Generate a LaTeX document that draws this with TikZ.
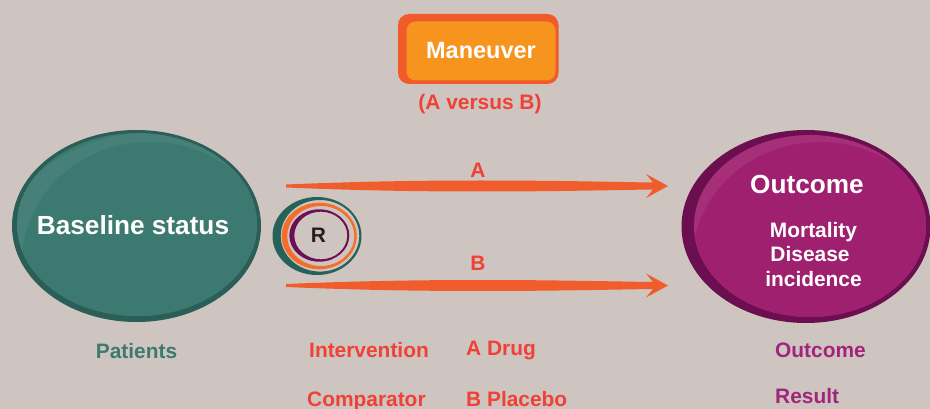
\documentclass[tikz,border=0pt]{standalone}
\usepackage{fontspec}
\setmainfont{Liberation Sans}
\definecolor{bgc}{RGB}{207,197,192}
\definecolor{orgborder}{RGB}{241,90,41}
\definecolor{orgfill}{RGB}{247,148,29}
\definecolor{redtxt}{RGB}{239,65,54}
\definecolor{arrowcol}{RGB}{241,92,44}
\definecolor{tealdark}{RGB}{42,94,86}
\definecolor{tealmain}{RGB}{60,121,112}
\definecolor{tealtxt}{RGB}{61,122,112}
\definecolor{magdark}{RGB}{108,15,80}
\definecolor{magmain}{RGB}{160,32,112}
\definecolor{magtxt}{RGB}{162,36,124}
\definecolor{ringteal}{RGB}{38,98,88}
\definecolor{ringorange}{RGB}{243,110,42}
\definecolor{ringpurple}{RGB}{110,14,84}
\definecolor{rtxt}{RGB}{35,31,32}
\tikzset{
  lbl/.style={inner sep=0pt, anchor=base west, font=\bfseries\fontsize{20.9}{24}\selectfont},
  lblc/.style={inner sep=0pt, anchor=base, font=\bfseries\fontsize{20.9}{24}\selectfont},
  wtitle/.style={inner sep=0pt, anchor=base, text=white, font=\bfseries\fontsize{26.2}{30}\selectfont},
  wsub/.style={inner sep=0pt, anchor=base, text=white, font=\bfseries\fontsize{20.9}{24}\selectfont},
  taperarrow/.pic={
    \fill[arrowcol] (0,-1.5) .. controls (60,-4) and (120,-5.5) .. (195,-5.5)
      .. controls (270,-5.5) and (330,-4) .. (367,-3.5) -- (360,-12) -- (382,0) -- (360,12) -- (367,3.5)
      .. controls (330,4) and (270,5.5) .. (195,5.5)
      .. controls (120,5.5) and (60,4) .. (0,1.5) -- cycle;
  }
}
\begin{document}
\begin{tikzpicture}[x=1pt,y=-1pt]
\fill[bgc] (0,0) rectangle (930,409);
\useasboundingbox (0,0) rectangle (930,409);

% Maneuver box
\fill[orgborder, rounded corners=11pt] (398,14) rectangle (558.5,84);
\fill[orgfill, rounded corners=9pt] (406.5,21.5) rectangle (555.5,80.5);
\node[wtitle, font=\bfseries\fontsize{23.5}{28}\selectfont] (man) at (481,58.5) {Maneuver};
\node[lblc, text=redtxt] (avb) at (480,109.5) {(A versus B)};

% Baseline ellipse
\fill[tealdark] (136.5,226) ellipse [x radius=124.5pt, y radius=96pt];
\fill[tealmain] (137,224.5) ellipse [x radius=120pt, y radius=91.5pt];
\begin{scope}
  \clip (137,224.5) ellipse [x radius=120pt, y radius=91.5pt];
  \fill[white, opacity=0.06] (150,255) ellipse [x radius=150pt, y radius=122pt];
  \fill[tealmain] (150,262) ellipse [x radius=128pt, y radius=120pt];
\end{scope}
\node[wtitle] (base) at (133,235) {Baseline status};

% Outcome ellipse
\fill[magdark] (806,226.5) ellipse [x radius=124.5pt, y radius=96.5pt];
\fill[magmain] (810,226) ellipse [x radius=116pt, y radius=91pt];
\begin{scope}
  \clip (810,226) ellipse [x radius=116pt, y radius=91pt];
  \fill[white, opacity=0.07] (820,255) ellipse [x radius=150pt, y radius=122pt];
  \fill[magmain] (820,262) ellipse [x radius=128pt, y radius=120pt];
\end{scope}
\node[wtitle] (out) at (807,193.5) {Outcome};
\node[wsub] (mort) at (813.5,237) {Mortality};
\node[wsub] (dis) at (810,261.7) {Disease};
\node[wsub] (inc) at (813.5,286.7) {incidence};

% R rings (crescents)
\fill[ringteal, even odd rule] (317,236) ellipse [x radius=44.5pt, y radius=39pt]
  (320,235.8) ellipse [x radius=39.3pt, y radius=35.8pt];
\fill[ringorange, even odd rule] (319.2,236) ellipse [x radius=37.5pt, y radius=33.3pt]
  (320.8,236) ellipse [x radius=33.5pt, y radius=30pt];
\fill[ringpurple, even odd rule] (319.3,235.5) ellipse [x radius=30pt, y radius=26.2pt]
  (320.8,235.5) ellipse [x radius=26.5pt, y radius=23.8pt];
\node[inner sep=0pt, anchor=base, text=rtxt, font=\bfseries\fontsize{21}{24}\selectfont] (r) at (318.5,243) {R};

% Arrows
\coordinate (aS) at (286,186);
\coordinate (bS) at (286,285.5);
\pic at (aS) {taperarrow};
\pic at (bS) {taperarrow};
\node[lblc, text=redtxt] (la) at (478,177.3) {A};
\node[lblc, text=redtxt] (lb) at (478,270) {B};

% bottom labels
\node[lblc, text=tealtxt] (pat) at (136.5,358) {Patients};
\node[lbl, text=redtxt] (intv) at (309,357) {Intervention};
\node[lbl, text=redtxt] (adrug) at (466,355.5) {A Drug};
\node[lbl, text=redtxt] (comp) at (307,406.5) {Comparator};
\node[lbl, text=redtxt] (bplac) at (466,406.5) {B Placebo};
\node[lbl, text=magtxt] (outl) at (775,357) {Outcome};
\node[lbl, text=magtxt] (res) at (775,403.5) {Result};
\end{tikzpicture}
\end{document}
